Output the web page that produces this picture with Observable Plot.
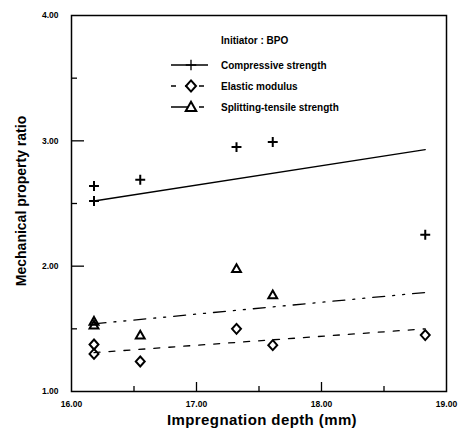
<!DOCTYPE html>
<html><head><meta charset="utf-8">
<script src="https://cdn.jsdelivr.net/npm/d3@7"></script>
<script src="https://cdn.jsdelivr.net/npm/@observablehq/plot@0.6"></script>
<style>body{margin:0;background:#fff}svg{font-family:"Liberation Sans",Arial,sans-serif}</style>
</head><body><div id="chart"></div>
<script>
// ---- data ----
const depth = [16.18, 16.18, 16.55, 17.32, 17.61, 18.83];
const compressive = [2.64, 2.52, 2.69, 2.95, 2.99, 2.25];
const elastic = [1.375, 1.30, 1.24, 1.50, 1.37, 1.45];
const splitDepth = [16.18, 16.18, 16.55, 17.32, 17.61];
const splitting = [1.56, 1.53, 1.45, 1.98, 1.77];
const fitX = [16.18, 18.83];
const fitCompressive = [2.52, 2.93];
const fitElastic = [1.31, 1.50];
const fitSplitting = [1.54, 1.79];
const xTicks = [16, 17, 18, 19];
const xMinor = [16.5, 17.5, 18.5];
const yTicks = [1, 2, 3, 4];
const yMinor = [1.5, 2.5, 3.5];
const legendTitle = "Initiator : BPO";
const legendLabels = ["Compressive strength", "Elastic modulus", "Splitting-tensile strength"];
const xLabel = "Impregnation depth (mm)";
const yLabel = "Mechanical property ratio";

// ---- layout ----
const W = 462, H = 431, mL = 71, mR = 16, mT = 15, mB = 40;
const xDom = [16, 19], yDom = [1, 4];
const pxX = (W - mL - mR) / (xDom[1] - xDom[0]);
const pxY = (H - mT - mB) / (yDom[1] - yDom[0]);

const plusSym = {draw(c, s){const r = Math.sqrt(s)/2; c.moveTo(-r,0); c.lineTo(r,0); c.moveTo(0,-r); c.lineTo(0,r);}};
const diamondSym = {draw(c, s){const r = Math.sqrt(s)/2; c.moveTo(0,-r); c.lineTo(r*0.9,0); c.lineTo(0,r); c.lineTo(-r*0.9,0); c.closePath();}};
const triSym = {draw(c, s){const r = Math.sqrt(s)/2; c.moveTo(0,-r); c.lineTo(r,r*0.75); c.lineTo(-r,r*0.75); c.closePath();}};

const pts = (xs, ys) => xs.map((x, i) => ({x, y: ys[i]}));

const chart = Plot.plot({
  width: W, height: H,
  marginLeft: mL, marginRight: mR, marginTop: mT, marginBottom: mB,
  style: {fontFamily: "Liberation Sans, Arial, sans-serif", fontSize: "8.5px", fontWeight: "bold", color: "#000", background: "#fff"},
  x: {domain: xDom, ticks: xTicks, tickFormat: d3.format(".2f"), tickSize: 0, tickPadding: 9, label: null},
  y: {domain: yDom, ticks: yTicks, tickFormat: d3.format(".2f"), tickSize: 0, tickPadding: 13, label: null},
  marks: [
    Plot.frame({stroke: "#000", strokeWidth: 1.5}),
    Plot.ruleY(yTicks.slice(1, -1), {x1: xDom[0], x2: xDom[0] + 13 / pxX, stroke: "#000", strokeWidth: 1.3}),
    Plot.ruleY(yMinor, {x1: xDom[0], x2: xDom[0] + 6 / pxX, stroke: "#000", strokeWidth: 1.3}),
    Plot.ruleX(xTicks.slice(1, -1), {y1: yDom[0], y2: yDom[0] + 9 / pxY, stroke: "#000", strokeWidth: 1.3}),
    Plot.ruleX(xMinor, {y1: yDom[0], y2: yDom[0] + 5 / pxY, stroke: "#000", strokeWidth: 1.3}),
    Plot.line(pts(fitX, fitCompressive), {x: "x", y: "y", stroke: "#000", strokeWidth: 1.3}),
    Plot.line(pts(fitX, fitElastic), {x: "x", y: "y", stroke: "#000", strokeWidth: 1.3, strokeDasharray: "6,9"}),
    Plot.line(pts(fitX, fitSplitting), {x: "x", y: "y", stroke: "#000", strokeWidth: 1.3, strokeDasharray: "12,8,2,8,2,8"}),
    Plot.dot(pts(depth, compressive), {x: "x", y: "y", symbol: plusSym, r: 5.6, stroke: "#000", strokeWidth: 2, fill: "none"}),
    Plot.dot(pts(depth, elastic), {x: "x", y: "y", symbol: diamondSym, r: 5.6, stroke: "#000", strokeWidth: 2, fill: "none"}),
    Plot.dot(pts(splitDepth, splitting), {x: "x", y: "y", symbol: triSym, r: 5, stroke: "#000", strokeWidth: 2, fill: "none"})
  ]
});
document.getElementById("chart").appendChild(chart);

const svg = d3.select(chart);
// axis titles
svg.append("text").attr("x", 262).attr("y", 425).attr("text-anchor", "middle")
  .attr("font-size", 15).attr("letter-spacing", 0.4).attr("font-weight", "bold").attr("fill", "#000").text(xLabel);
svg.append("text").attr("transform", `translate(26,201) rotate(-90)`).attr("text-anchor", "middle")
  .attr("font-size", 14).attr("font-weight", "bold").attr("fill", "#000").text(yLabel);

// legend
const lg = svg.append("g").attr("fill", "#000").attr("font-weight", "bold").attr("font-size", 10).attr("text-anchor", "start");
lg.append("text").attr("x", 221).attr("y", 44).text(legendTitle);
const rowsY = [65, 86, 107];
const dashes = [null, "5,9", "19,9,5,10"];
const syms = [plusSym, diamondSym, triSym];
const symSize = [110, 124, 110];
legendLabels.forEach((lab, i) => {
  const y = rowsY[i];
  lg.append("line").attr("x1", 171).attr("x2", 208).attr("y1", y).attr("y2", y)
    .attr("stroke", "#000").attr("stroke-width", 1.3).attr("stroke-dasharray", dashes[i]);
  lg.append("path").attr("transform", `translate(191,${y})`).attr("d", d3.symbol(syms[i], symSize[i])())
    .attr("fill", i === 0 ? "none" : "#fff").attr("stroke", "#000").attr("stroke-width", i === 0 ? 1.3 : 2);
  lg.append("text").attr("x", 221).attr("y", y + 3.5).text(lab);
});
</script></body></html>
